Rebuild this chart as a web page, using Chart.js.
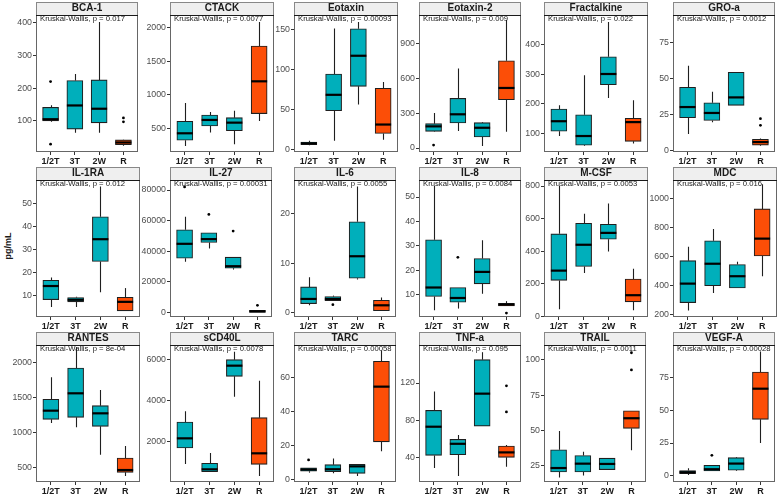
<!DOCTYPE html>
<html>
<head>
<meta charset="utf-8">
<script src="https://cdn.jsdelivr.net/npm/chart.js@4.4.1/dist/chart.umd.min.js"></script>
<style>
  body { margin: 0; background: #fff; }
  #wrap { position: relative; width: 780px; height: 496px; overflow: hidden; }
  .panel { position: absolute; }
  #ylab {
    position: absolute; left: 8px; top: 246px;
    transform: translate(-50%, -50%) rotate(-90deg);
    font: bold 9px "Liberation Sans", Arial, sans-serif; color: #1a1a1a;
    white-space: nowrap;
  }
</style>
</head>
<body>
<div id="wrap">
  <div id="ylab">pg/mL</div>
</div>
<script>
    // groups on the x axis of every panel
    const groups = ['1/2T', '3T', '2W', 'R'];
    const groupColors = ['#00AFBB', '#00AFBB', '#00AFBB', '#FC4E07'];

    const cytokines = ['BCA-1', 'CTACK', 'Eotaxin', 'Eotaxin-2', 'Fractalkine', 'GRO-a',
                       'IL-1RA', 'IL-27', 'IL-6', 'IL-8', 'M-CSF', 'MDC',
                       'RANTES', 'sCD40L', 'TARC', 'TNF-a', 'TRAIL', 'VEGF-A'];
    const pValues = ['0.017', '0.0077', '0.00093', '0.009', '0.022', '0.0012',
                     '0.012', '0.00031', '0.0055', '0.0084', '0.0053', '0.016',
                     '8e-04', '0.0078', '0.00058', '0.095', '0.0011', '0.00028'];

    // y axis range and tick labels per panel
    const yMin = [5, 153, -2.5, -34, 37, -0.9, 0.5, -2834, -0.95, 0.8, -5, 184, 300, 64, -1.6, 14, 13.4, -4.6];
    const yMax = [423, 2188, 167.6, 1147, 500, 94.2, 60.2, 86540, 26.9, 57, 837, 1128, 2257, 6694, 79, 160.7, 110.5, 99.5];
    const yTicks = [
        [100, 200, 300, 400], [500, 1000, 1500, 2000], [0, 50, 100, 150], [0, 300, 600, 900],
        [100, 200, 300, 400], [0, 25, 50, 75], [10, 20, 30, 40, 50], [0, 20000, 40000, 60000, 80000],
        [0, 10, 20], [10, 20, 30, 40, 50], [0, 200, 400, 600, 800], [200, 400, 600, 800, 1000],
        [500, 1000, 1500, 2000], [2000, 4000, 6000], [0, 20, 40, 60], [40, 80, 120],
        [25, 50, 75, 100], [0, 25, 50, 75]
    ];

    // box statistics, one row per panel, one value per group
    const whiskerLow = [
        [97, 64, 64, 24], [243, 441, 267, 614], [6, 11.5, 56.6, 12.7], [140, 147, 17, 141],
        [91, 57, 219.5, 66], [11.6, 19.7, 31.5, 3.5], [4.9, 4.9, 11.3, 3.2], [33130, 41860, 28120, 218],
        [1.43, 2.38, 6.67, 0.27], [3.6, 4.25, 10.3, 5.3], [43, 265, 398, 37], [228, 350, 384, 465],
        [1143, 1081, 690, 386], [935, 565, 4194, 355], [3.9, 3.5, 2, 16.5], [29, 20.3, 73.9, 30.4],
        [16.6, 18, 22.2, 35.9], [0.8, 3.8, 3.8, 25]
    ];
    const boxLow = [
        [100, 75, 94, 27], [327, 540, 470, 723], [6.6, 48.8, 79, 20.5], [144, 216, 95, 417],
        [107, 60, 264.5, 73], [22.9, 21, 31.5, 3.9], [8.1, 7.1, 24.7, 3.2], [35530, 45780, 29000, 218],
        [1.77, 2.38, 6.94, 0.34], [9.2, 6.85, 14.4, 5.3], [220, 306, 473, 88], [283, 400, 384, 605],
        [1195, 1224, 1095, 438], [1710, 565, 5177, 919], [4.7, 4.5, 3.5, 22], [42.5, 43.2, 73.9, 40.4],
        [20.5, 20.5, 22.2, 51.4], [1.8, 3.8, 4.3, 43]
    ];
    const medians = [
        [105, 147, 137, 34], [431, 629, 589, 1203], [8.2, 68.5, 117, 31.6], [187, 291, 175, 518],
        [141, 91, 300.6, 138], [30.3, 26.2, 37, 6], [14, 8, 34.4, 7.1], [44910, 47960, 30300, 870],
        [2.72, 2.72, 11.4, 1.43], [12.9, 8.6, 19.3, 5.9], [280, 439, 512, 129], [414, 551, 465, 724],
        [1319, 1567, 1281, 471], [2177, 677, 5694, 1452], [5.7, 5.9, 7.6, 54.5], [73.2, 54.9, 108.6, 45.7],
        [23.3, 26.4, 26.2, 58.6], [2.8, 5.1, 9.4, 66.3]
    ];
    const boxHigh = [
        [141, 223, 225, 42], [609, 703, 663, 1728], [9.8, 94.3, 150.5, 76.7], [210, 428, 219, 753],
        [182, 163, 359, 151], [44, 33.3, 54.4, 7.9], [16.5, 9, 44.2, 9.1], [54060, 52100, 36190, 1525],
        [5.17, 3.2, 18.4, 2.45], [32.5, 12.9, 24.8, 6.4], [506, 571, 565, 228], [572, 709, 546, 929],
        [1481, 1929, 1390, 643], [2968, 968, 5984, 3177], [6.67, 8.6, 8.8, 69.4], [90.7, 59.6, 145, 52.5],
        [36.2, 32.2, 30.3, 63.9], [4.05, 8.1, 13.9, 79]
    ];
    const whiskerHigh = [
        [148, 243, 402, 43], [881, 748, 767, 2084], [11.5, 150.8, 159, 84.5], [302, 685, 225, 1104],
        [195, 296, 476, 211.6], [59, 41, 54.4, 8.5], [17.7, 9.3, 57.4, 13.1], [62560, 52100, 36190, 1525],
        [7.14, 3.4, 25.6, 3.0], [54.5, 12.9, 32.3, 7.3], [800, 629, 692, 292], [668, 791, 565, 1098],
        [1795, 2224, 1614, 814], [3484, 1468, 6371, 4968], [6.67, 12.2, 9, 75.7], [111, 64.3, 153, 53.5],
        [49.5, 34.8, 30.3, 63.9], [5.8, 8.1, 14.4, 94.5]
    ];
    // outliers as [group index, value]
    const outliers = [
        [[0, 220], [0, 29], [3, 109], [3, 97]], [], [], [[0, 26]],
        [], [[3, 22.2], [3, 17.6]], [], [[0, 82000], [1, 64090], [2, 53190], [3, 4796]],
        [[1, 1.56]], [[1, 25.3], [3, 2.4]], [], [],
        [], [], [[0, 11.4]], [[3, 117], [3, 89]],
        [[3, 92.8], [3, 105]], [[1, 15.7]]
    ];

    Chart.defaults.font.family = '"Liberation Sans", Arial, sans-serif';

    const colLeft = [2, 136, 260, 385, 510, 639];
    const rowTop = [2, 167, 332];
    const BOX_W = 16;

    const boxPlugin = {
        id: 'boxParts',
        beforeDraw(chart) {
            const a = chart.chartArea, c = chart.ctx;
            c.save();
            c.fillStyle = '#efefef';
            c.fillRect(a.left, 0, a.right - a.left, a.top);
            c.strokeStyle = '#888';
            c.lineWidth = 1;
            c.strokeRect(a.left + 0.5, 0.5, a.right - a.left - 1, a.top);
            c.restore();
        },
        beforeDatasetsDraw(chart) {
            const p = chart.options.plugins.boxParts.panel;
            const x = chart.scales.x, y = chart.scales.y, c = chart.ctx;
            c.save();
            c.strokeStyle = '#1f1f1f';
            c.lineWidth = 1.1;
            groups.forEach((g, i) => {
                const px = Math.round(x.getPixelForValue(i + 1)) + 0.5;
                c.beginPath();
                c.moveTo(px, y.getPixelForValue(whiskerLow[p][i]));
                c.lineTo(px, y.getPixelForValue(boxLow[p][i]));
                c.moveTo(px, y.getPixelForValue(boxHigh[p][i]));
                c.lineTo(px, y.getPixelForValue(whiskerHigh[p][i]));
                c.stroke();
            });
            c.restore();
        },
        afterDatasetsDraw(chart) {
            const p = chart.options.plugins.boxParts.panel;
            const x = chart.scales.x, y = chart.scales.y, c = chart.ctx;
            const a = chart.chartArea;
            c.save();
            c.strokeStyle = '#000';
            c.lineWidth = 2.2;
            groups.forEach((g, i) => {
                const px = x.getPixelForValue(i + 1);
                const py = y.getPixelForValue(medians[p][i]);
                c.beginPath();
                c.moveTo(px - BOX_W / 2, py);
                c.lineTo(px + BOX_W / 2, py);
                c.stroke();
            });
            // panel frame
            c.lineWidth = 1;
            c.strokeStyle = '#666';
            c.strokeRect(a.left + 0.5, a.top + 0.5, a.right - a.left - 1, a.bottom - a.top - 1);
            c.strokeStyle = '#1a1a1a';
            c.beginPath();
            c.moveTo(a.left, a.top + 0.5);
            c.lineTo(a.right, a.top + 0.5);
            c.stroke();
            // test label
            c.fillStyle = '#1a1a1a';
            c.font = '7.7px "Liberation Sans", Arial, sans-serif';
            c.textAlign = 'left';
            c.textBaseline = 'top';
            c.fillText('Kruskal-Wallis, p = ' + pValues[p], a.left + 4, a.top + 0.5);
            c.restore();
        }
    };

    const wrap = document.getElementById('wrap');

    cytokines.forEach((name, p) => {
        const div = document.createElement('div');
        div.className = 'panel';
        div.style.left = colLeft[p % 6] + 'px';
        div.style.top = rowTop[Math.floor(p / 6)] + 'px';
        const canvas = document.createElement('canvas');
        canvas.width = 140;
        canvas.height = 167;
        div.appendChild(canvas);
        wrap.appendChild(div);

        new Chart(canvas.getContext('2d'), {
            type: 'bar',
            data: {
                datasets: [{
                    type: 'bar',
                    data: groups.map((g, i) => ({ x: i + 1, y: [boxLow[p][i], boxHigh[p][i]] })),
                    backgroundColor: groupColors,
                    borderColor: '#1f1f1f',
                    borderWidth: 1.1,
                    borderSkipped: false,
                    barThickness: BOX_W
                }, {
                    type: 'scatter',
                    data: outliers[p].map(o => ({ x: o[0] + 1, y: o[1] })),
                    backgroundColor: '#000',
                    borderWidth: 0,
                    pointRadius: 1.4
                }]
            },
            options: {
                responsive: false,
                animation: false,
                devicePixelRatio: 1,
                layout: { padding: { left: 0, right: 2, top: 0, bottom: 0 } },
                plugins: {
                    legend: { display: false },
                    tooltip: { enabled: false },
                    title: {
                        display: true,
                        text: name,
                        fullSize: false,
                        color: '#1a1a1a',
                        font: { size: 10, weight: 'bold', lineHeight: '11px' },
                        padding: { top: 1, bottom: 1 }
                    },
                    boxParts: { panel: p }
                },
                scales: {
                    x: {
                        type: 'linear',
                        min: 0.4,
                        max: 4.6,
                        offset: false,
                        afterBuildTicks: s => { s.ticks = groups.map((g, i) => ({ value: i + 1 })); },
                        afterFit: s => { s.height = 17; },
                        grid: { offset: false, drawOnChartArea: false, drawTicks: true, tickLength: 3, color: '#333' },
                        border: { display: false },
                        ticks: {
                            autoSkip: false,
                            maxRotation: 0,
                            padding: 1,
                            color: '#1a1a1a',
                            font: { size: 9, weight: 'bold' },
                            callback: v => groups[v - 1]
                        }
                    },
                    y: {
                        min: yMin[p],
                        max: yMax[p],
                        afterBuildTicks: s => { s.ticks = yTicks[p].map(v => ({ value: v })); },
                        afterFit: s => { s.width = 34; },
                        grid: { drawOnChartArea: false, drawTicks: true, tickLength: 3, color: '#333' },
                        border: { display: false },
                        ticks: {
                            padding: 1,
                            color: '#4d4d4d',
                            font: { size: 8.8 },
                            callback: v => String(v)
                        }
                    }
                }
            },
            plugins: [boxPlugin]
        });
    });
</script>
</body>
</html>
